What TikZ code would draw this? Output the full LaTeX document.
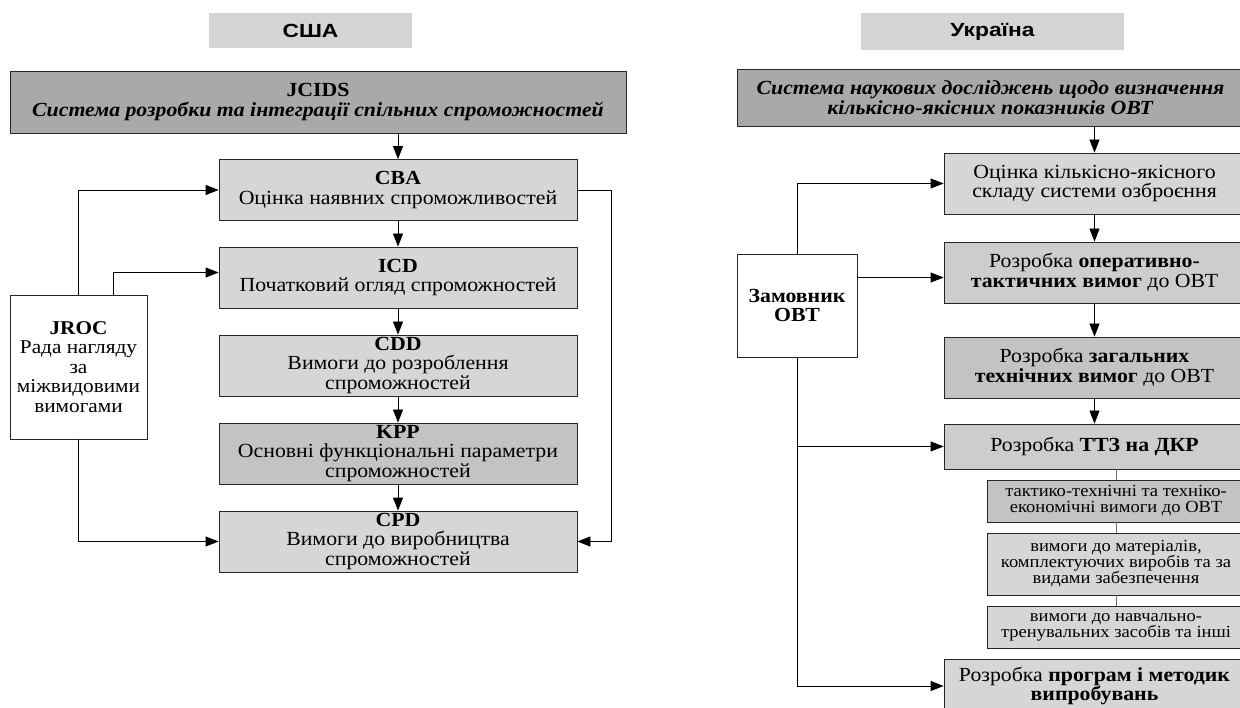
\documentclass[tikz,border=0pt]{standalone}
\usepackage{fontspec}
\setmainfont[FakeStretch=1.09]{Liberation Serif}
\setsansfont[FakeStretch=1.2]{Liberation Sans}
\usetikzlibrary{arrows.meta,positioning,calc}
\definecolor{edge}{HTML}{262626}
\definecolor{headgray}{HTML}{D4D4D4}
\definecolor{boxlight}{HTML}{D6D6D6}
\definecolor{boxmid}{HTML}{CDCDCD}
\definecolor{boxdeep}{HTML}{C3C3C3}
\definecolor{boxdark}{HTML}{A9A9A9}
\definecolor{linegray}{HTML}{707070}
\newcommand{\boxfont}{\fontsize{20}{19.5}\selectfont}
\newcommand{\subfont}{\fontsize{17}{16}\selectfont}
\newcommand{\jrocfont}{\fontsize{19.5}{19.5}\selectfont}
\newcommand{\headfont}{\sffamily\bfseries\fontsize{19}{20}\selectfont}

\begin{document}
\begin{tikzpicture}[
  x=1pt, y=-1pt,
  >={Triangle[length=13pt,width=10pt]},
  blk/.style={draw=edge, line width=0.8pt, inner sep=0pt, align=center,
    font=\boxfont, minimum height=61pt},
  light/.style={blk, fill=boxlight},
  mid/.style={blk, fill=boxmid},
  deep/.style={blk, fill=boxdeep},
  dark/.style={blk, fill=boxdark},
  plain/.style={blk, fill=white},
  subbox/.style={font=\subfont, minimum width=258pt},
  head/.style={fill=headgray, inner sep=0pt, font=\headfont},
  arr/.style={->, draw=black, line width=0.8pt},
  subline/.style={draw=linegray, line width=0.9pt}
]
\path[use as bounding box, fill=white] (0,0) rectangle (1240,708);
\clip (0,0) rectangle (1240,708);

% USA
\node[head, minimum width=203pt, minimum height=35pt] (usa) at (310.5,30.5) {США};
\node[dark, minimum width=616pt, minimum height=62pt] (jcids) at (318,102)
  {\textbf{JCIDS}\\\textbf{\textit{Система розробки та інтеграції спільних спроможностей}}};
\node[light, minimum width=358pt] (cba) at (398,190)
  {\textbf{CBA}\\Оцінка наявних спроможливостей};
\node[light, minimum width=358pt] (icd) at (398,277.5)
  {\textbf{ICD}\\Початковий огляд спроможностей};
\node[light, minimum width=358pt] (cdd) at (398,365.5)
  {\textbf{CDD}\\Вимоги до розроблення\\спроможностей};
\node[deep, minimum width=358pt] (kpp) at (398,453.5)
  {\textbf{KPP}\\Основні функціональні параметри\\спроможностей};
\node[light, minimum width=358pt] (cpd) at (398,541.5)
  {\textbf{CPD}\\Вимоги до виробництва\\спроможностей};
\node[plain, font=\jrocfont, minimum width=137pt, minimum height=144pt] (jroc) at (78.5,367)
  {\textbf{JROC}\\Рада нагляду\\за\\міжвидовими\\вимогами};

\draw[arr] (jcids.south -| cba.north) -- (cba.north);
\foreach \a/\b in {cba/icd,icd/cdd,cdd/kpp,kpp/cpd}
  \draw[arr] (\a) -- (\b);
\coordinate (icdin) at ([yshift=5pt]icd.west);
\draw[arr] (jroc.north) |- (cba.west);
\draw[arr] ([xshift=34.5pt]jroc.north) |- (icdin);
\draw[arr] (jroc.south) |- (cpd.west);
\draw[arr] (cba.east) -- ++(34,0) |- (cpd.east);

% Ukraine
\node[head, minimum width=263pt, minimum height=37pt] (ukr) at (992.5,31.5) {Україна};
\node[dark, minimum width=507pt, minimum height=57pt] (research) at (990.5,97.5)
  {\textbf{\textit{Система наукових досліджень щодо визначення}}\\
   \textbf{\textit{кількісно-якісних показників ОВТ}}};
\node[light, minimum width=301pt] (r1) at (1094.5,183.5)
  {Оцінка кількісно-якісного\\складу системи озброєння};
\node[mid, minimum width=301pt] (r2) at (1094.5,272.5)
  {Розробка \textbf{оперативно-}\\\textbf{тактичних вимог} до ОВТ};
\node[deep, minimum width=301pt] (r3) at (1094.5,367.5)
  {Розробка \textbf{загальних}\\\textbf{технічних вимог} до ОВТ};
\node[mid, minimum width=301pt, minimum height=45pt] (r4) at (1094.5,446.5)
  {Розробка \textbf{ТТЗ на ДКР}};
\node[deep, subbox, minimum height=42pt] (sub1) at (1116,501)
  {тактико-технічні та техніко-\\економічні вимоги до ОВТ};
\node[light, subbox, minimum height=62pt] (sub2) at (1116,564)
  {вимоги до матеріалів,\\комплектуючих виробів та за\\видами забезпечення};
\node[light, subbox, minimum height=42pt] (sub3) at (1116,627)
  {вимоги до навчально-\\тренувальних засобів та інші};
\node[light, minimum width=301pt, minimum height=54pt] (r5) at (1094.5,686)
  {Розробка \textbf{програм і методик}\\\textbf{випробувань}};
\node[plain, minimum width=120pt, minimum height=103pt] (zam) at (797,305.5)
  {\textbf{Замовник}\\\textbf{ОВТ}};

\draw[arr] (research.south -| r1.north) -- (r1.north);
\foreach \a/\b in {r1/r2,r2/r3,r3/r4}
  \draw[arr] (\a) -- (\b);
\draw[subline] (r4.south -| sub1.north) -- (sub1.north);
\foreach \a/\b in {sub1/sub2,sub2/sub3}
  \draw[subline] (\a) -- (\b);
\coordinate (r2in) at ([yshift=-5pt]r2.west);
\draw[arr] (zam.north) |- (r1.west);
\draw[arr] (zam.east |- r2in) -- (r2in);
\draw[arr] (zam.south) |- (r4.west);
\draw[arr] (zam.south) |- (r5.west);
\end{tikzpicture}
\end{document}
